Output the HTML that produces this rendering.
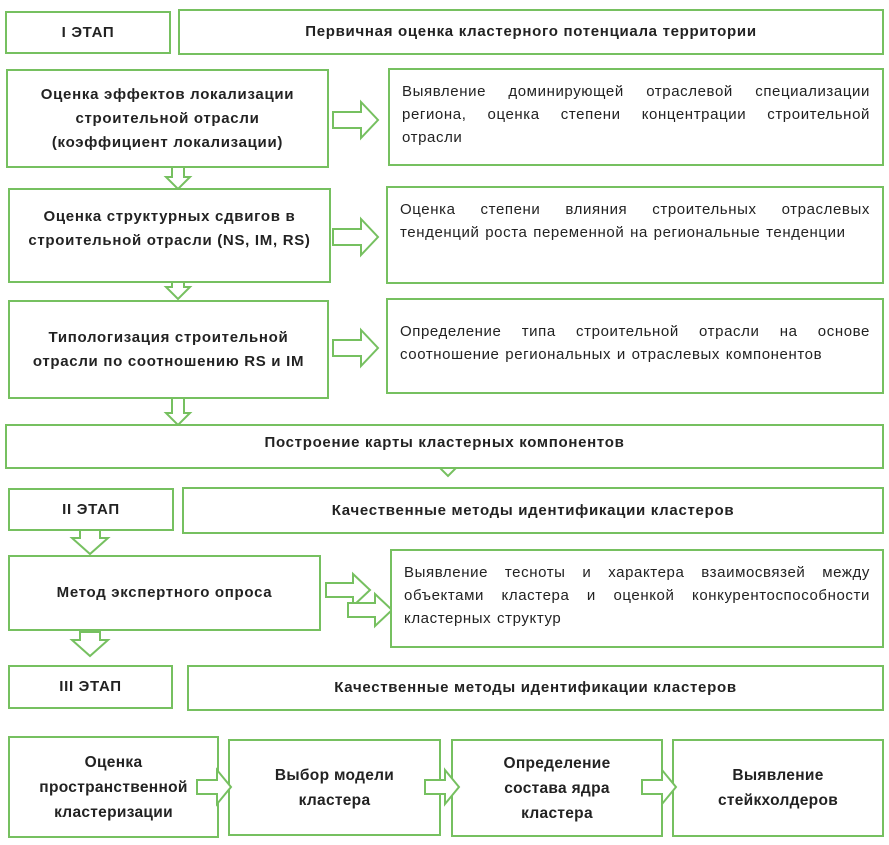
<!DOCTYPE html>
<html><head><meta charset="utf-8"><style>
body{margin:0;width:889px;height:845px;background:#fff;position:relative;font-family:"Liberation Sans","DejaVu Sans",sans-serif;color:#222;overflow:hidden}
.b{position:absolute;box-sizing:border-box;border:2px solid #76c060;background:#fff;display:flex;align-items:center;justify-content:center;text-align:center;font-weight:bold;font-size:15px;letter-spacing:0.7px;line-height:24px}
.r{font-weight:normal;justify-content:flex-start;text-align:justify;text-align-last:left;padding:10px 12px 0 12px;align-items:flex-start;line-height:23px;font-size:15px;letter-spacing:0.6px;word-spacing:1px}
.s{font-size:15.5px;letter-spacing:0.3px;line-height:25px}
svg{position:absolute;left:0;top:0}
</style></head><body>
<svg width="889" height="845"><g fill="#fff" stroke="#76c060" stroke-width="2">
<path d="M333,112 h28 v-10 l17,18 l-17,18 v-10 h-28z"/>
<path d="M333,229 h28 v-10 l17,18 l-17,18 v-10 h-28z"/>
<path d="M333,340 h28 v-10 l17,18 l-17,18 v-10 h-28z"/>
<path d="M172,160 h12 v17 h6 l-12,12 l-12,-12 h6z"/>
<path d="M172,270 h12 v17 h6 l-12,12 l-12,-12 h6z"/>
<path d="M172,396 h12 v17 h6 l-12,12 l-12,-12 h6z"/>
<path d="M444,458 h8 v8 h6 l-10,10 l-10,-10 h6z"/>
<path d="M80,530 h20 v8 h8 l-18,16 l-18,-16 h8z"/>
<path d="M80,632 h20 v8 h8 l-18,16 l-18,-16 h8z"/>
<path d="M326,583 h27 v-9 l17,16 l-17,16 v-9 h-27z"/>
<path d="M348,603 h27 v-9 l17,16 l-17,16 v-9 h-27z"/>
</g></svg>
<div class="b" style="left:5px;top:11px;width:166px;height:43px">I ЭТАП</div>
<div class="b" style="left:178px;top:9px;width:706px;height:46px">Первичная оценка кластерного потенциала территории</div>
<div class="b" style="left:6px;top:69px;width:323px;height:99px">Оценка эффектов локализации<br>строительной отрасли<br>(коэффициент локализации)</div>
<div class="b r" style="left:388px;top:68px;width:496px;height:98px">Выявление доминирующей отраслевой специализации региона, оценка степени концентрации строительной отрасли</div>
<div class="b" style="left:8px;top:188px;width:323px;height:95px;padding-bottom:14px">Оценка структурных сдвигов в<br>строительной отрасли (NS, IM, RS)</div>
<div class="b r" style="left:386px;top:186px;width:498px;height:98px">Оценка степени влияния строительных отраслевых тенденций роста переменной на региональные тенденции</div>
<div class="b" style="left:8px;top:300px;width:321px;height:99px">Типологизация строительной<br>отрасли по соотношению RS и IM</div>
<div class="b r" style="left:386px;top:298px;width:498px;height:96px;padding-top:20px">Определение типа строительной отрасли на основе соотношение региональных и отраслевых компонентов</div>
<div class="b" style="left:5px;top:424px;width:879px;height:45px;padding-bottom:8px">Построение карты кластерных компонентов</div>
<div class="b" style="left:8px;top:488px;width:166px;height:43px">II ЭТАП</div>
<div class="b" style="left:182px;top:487px;width:702px;height:47px">Качественные методы идентификации кластеров</div>
<div class="b" style="left:8px;top:555px;width:313px;height:76px">Метод экспертного опроса</div>
<div class="b r" style="left:390px;top:549px;width:494px;height:99px">Выявление тесноты и характера взаимосвязей между объектами кластера и оценкой конкурентоспособности кластерных структур</div>
<div class="b" style="left:8px;top:665px;width:165px;height:44px">III ЭТАП</div>
<div class="b" style="left:187px;top:665px;width:697px;height:46px">Качественные методы идентификации кластеров</div>
<div class="b s" style="left:8px;top:736px;width:211px;height:102px">Оценка<br>пространственной<br>кластеризации</div>
<div class="b s" style="left:228px;top:739px;width:213px;height:97px">Выбор модели<br>кластера</div>
<div class="b s" style="left:451px;top:739px;width:212px;height:98px">Определение<br>состава ядра<br>кластера</div>
<div class="b s" style="left:672px;top:739px;width:212px;height:98px">Выявление<br>стейкхолдеров</div>
<svg width="889" height="845" style="pointer-events:none"><g fill="#fff" stroke="#76c060" stroke-width="2">
<path d="M197,780 h20 v-10 l14,17 l-14,17 v-10 h-20z"/>
<path d="M425,780 h20 v-10 l14,17 l-14,17 v-10 h-20z"/>
<path d="M642,780 h20 v-10 l14,17 l-14,17 v-10 h-20z"/>
</g></svg>
</body></html>
